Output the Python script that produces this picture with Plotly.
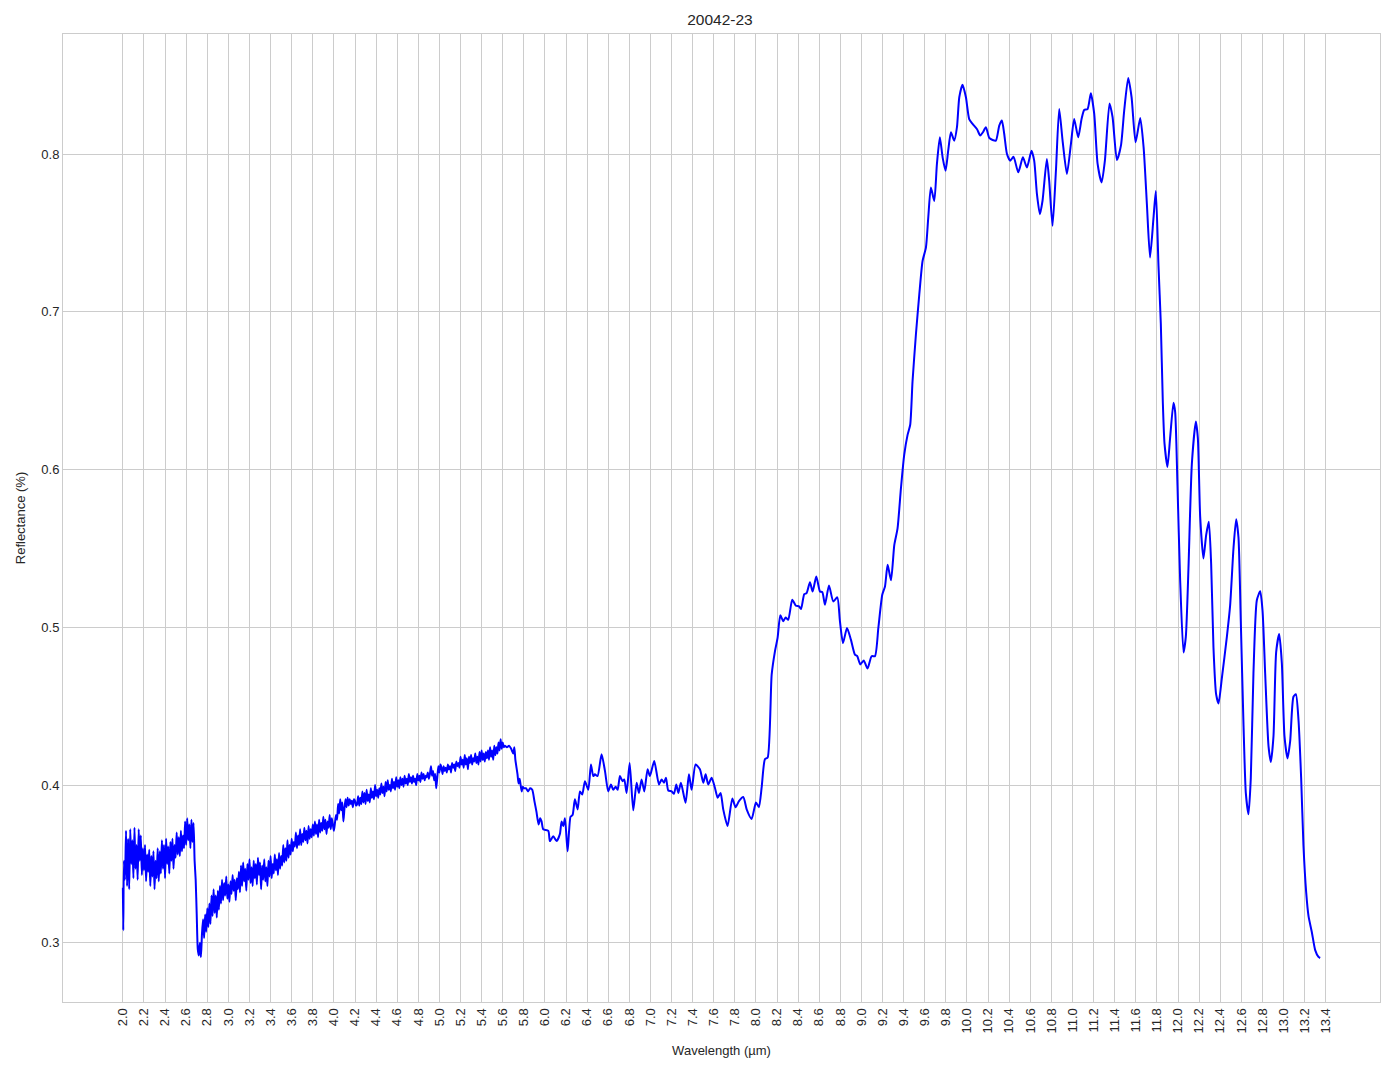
import numpy as np
import plotly.graph_objects as go

TITLE = "20042-23"
X_LABEL = "Wavelength (µm)"
Y_LABEL = "Reflectance (%)"

# --- start of the spectrum (irregular samples)
start_wl = [2.000, 2.004]
start_refl = [0.335, 0.308]

# --- noisy region sampled every 0.01 µm from 2.01 to 4.00
noisy_wl_first, noisy_wl_step = 2.01, 0.01
noisy_refl = [
    0.352, 0.340, 0.371, 0.336, 0.366, 0.334, 0.372, 0.350, 0.365, 0.341,
    0.373, 0.347, 0.362, 0.340, 0.372, 0.352, 0.368, 0.343, 0.360, 0.346,
    0.362, 0.339, 0.356, 0.345, 0.359, 0.336, 0.355, 0.342, 0.358, 0.334,
    0.352, 0.341, 0.360, 0.339, 0.358, 0.344, 0.365, 0.347, 0.362, 0.341,
    0.366, 0.350, 0.361, 0.344, 0.364, 0.352, 0.366, 0.347, 0.362, 0.354,
    0.370, 0.356, 0.367, 0.355, 0.371, 0.358, 0.368, 0.360, 0.377, 0.362,
    0.379, 0.365, 0.375, 0.360, 0.378, 0.364, 0.376, 0.352, 0.340, 0.318,
    0.296, 0.292, 0.300, 0.291, 0.306, 0.315, 0.303, 0.318, 0.307, 0.322,
    0.310, 0.325, 0.312, 0.330, 0.317, 0.334, 0.319, 0.330, 0.316, 0.333,
    0.321, 0.336, 0.325, 0.340, 0.327, 0.338, 0.330, 0.342, 0.328, 0.337,
    0.326, 0.339, 0.331, 0.343, 0.333, 0.340, 0.327, 0.341, 0.334, 0.345,
    0.332, 0.349, 0.336, 0.351, 0.339, 0.347, 0.333, 0.350, 0.340, 0.353,
    0.338, 0.348, 0.336, 0.352, 0.341, 0.350, 0.337, 0.354, 0.343, 0.351,
    0.334, 0.349, 0.340, 0.353, 0.339, 0.348, 0.336, 0.352, 0.342, 0.355,
    0.341, 0.350, 0.344, 0.356, 0.346, 0.353, 0.343, 0.357, 0.347, 0.355,
    0.349, 0.362, 0.351, 0.360, 0.352, 0.365, 0.354, 0.362, 0.356, 0.366,
    0.358, 0.364, 0.361, 0.370, 0.360, 0.368, 0.362, 0.372, 0.362, 0.369,
    0.364, 0.373, 0.365, 0.371, 0.363, 0.374, 0.366, 0.372, 0.367, 0.375,
    0.368, 0.377, 0.369, 0.375, 0.367, 0.378, 0.370, 0.376, 0.371, 0.380,
    0.372, 0.378, 0.369, 0.377, 0.373, 0.381, 0.372, 0.379, 0.375, 0.371,
]

# --- rising region sampled every 0.01 µm from 4.01 to 5.61
rise_wl_first, rise_wl_step = 4.01, 0.01
rise_refl = [
    0.376, 0.381, 0.378, 0.388, 0.382, 0.391, 0.384, 0.389, 0.377, 0.385,
    0.391, 0.386, 0.392, 0.387, 0.391, 0.388, 0.390, 0.386, 0.391, 0.390,
    0.387, 0.388, 0.393, 0.387, 0.392, 0.388, 0.396, 0.389, 0.395, 0.388,
    0.397, 0.390, 0.394, 0.389, 0.398, 0.392, 0.396, 0.391, 0.400, 0.393,
    0.397, 0.392, 0.398, 0.394, 0.401, 0.395, 0.399, 0.393, 0.402, 0.396,
    0.403, 0.397, 0.400, 0.396, 0.404, 0.398, 0.402, 0.397, 0.405, 0.399,
    0.403, 0.398, 0.405, 0.400, 0.404, 0.399, 0.406, 0.401, 0.404, 0.400,
    0.407, 0.402, 0.405, 0.401, 0.406, 0.402, 0.404, 0.400, 0.407, 0.403,
    0.406, 0.402, 0.408, 0.404, 0.407, 0.403, 0.406, 0.405, 0.408, 0.404,
    0.407, 0.412, 0.406, 0.409, 0.403, 0.407, 0.398, 0.405, 0.412, 0.408,
    0.413, 0.411, 0.407, 0.412, 0.409, 0.411, 0.408, 0.413, 0.410, 0.412,
    0.408, 0.414, 0.411, 0.413, 0.409, 0.415, 0.412, 0.414, 0.411, 0.418,
    0.413, 0.416, 0.411, 0.419, 0.413, 0.417, 0.410, 0.418, 0.414, 0.419,
    0.413, 0.417, 0.415, 0.420, 0.414, 0.418, 0.413, 0.421, 0.415, 0.422,
    0.416, 0.420, 0.415, 0.421, 0.417, 0.422, 0.416, 0.424, 0.418, 0.422,
    0.416, 0.425, 0.419, 0.424, 0.420, 0.427, 0.422, 0.429, 0.423, 0.427,
    0.424,
]

# --- remaining spectrum (irregular samples)
tail_wl = [
    5.62, 5.64, 5.66, 5.68, 5.70, 5.71, 5.72, 5.74, 5.75, 5.76, 5.77, 5.78, 5.79,
    5.80, 5.82, 5.84, 5.86, 5.88, 5.90, 5.92, 5.94, 5.955, 5.968, 5.984,
    6.032, 6.047, 6.079, 6.111, 6.142, 6.158, 6.174, 6.190, 6.215, 6.243, 6.262,
    6.284, 6.310, 6.332, 6.354, 6.379, 6.411, 6.436, 6.458, 6.474, 6.499, 6.537,
    6.569, 6.600, 6.626, 6.648, 6.670, 6.689, 6.711, 6.736, 6.752, 6.774, 6.803,
    6.837, 6.869, 6.891, 6.916, 6.942, 6.973, 6.995, 7.036, 7.081, 7.106, 7.128,
    7.147, 7.169, 7.201, 7.223, 7.245, 7.264, 7.289, 7.333, 7.365, 7.390, 7.428,
    7.469, 7.501, 7.523, 7.548, 7.580, 7.611, 7.637, 7.665, 7.690, 7.731, 7.776,
    7.807, 7.839, 7.880, 7.912, 7.959, 8.000, 8.028, 8.054, 8.085, 8.111, 8.149,
    8.180, 8.205, 8.231, 8.259, 8.281, 8.306, 8.344, 8.379, 8.408, 8.427, 8.458,
    8.480, 8.512, 8.537, 8.572, 8.607, 8.629, 8.654, 8.692, 8.733, 8.771, 8.796,
    8.825, 8.863, 8.900, 8.938, 8.960, 8.989, 9.021, 9.058, 9.096, 9.128, 9.160,
    9.197, 9.223, 9.248, 9.280, 9.311, 9.342, 9.374, 9.405, 9.437, 9.462, 9.484,
    9.516, 9.548, 9.579, 9.611, 9.633, 9.658, 9.690, 9.715, 9.743, 9.769, 9.797,
    9.822, 9.848, 9.879, 9.905, 9.927, 9.958, 9.990, 10.021, 10.053, 10.094,
    10.126, 10.151, 10.179, 10.211, 10.243, 10.274, 10.306, 10.331, 10.353,
    10.379, 10.410, 10.441, 10.486, 10.530, 10.568, 10.612, 10.637, 10.663,
    10.691, 10.716, 10.757, 10.779, 10.811, 10.843, 10.874, 10.906, 10.947,
    10.985, 11.016, 11.054, 11.086, 11.111, 11.143, 11.174, 11.206, 11.238,
    11.276, 11.307, 11.351, 11.380, 11.421, 11.459, 11.490, 11.528, 11.560,
    11.598, 11.642, 11.674, 11.705, 11.735, 11.768, 11.790, 11.815, 11.837,
    11.856, 11.872, 11.900, 11.925, 11.957, 11.973, 11.995, 12.020, 12.052,
    12.074, 12.099, 12.131, 12.169, 12.188, 12.210, 12.241, 12.267, 12.292,
    12.314, 12.336, 12.361, 12.384, 12.415, 12.463, 12.494, 12.526, 12.551,
    12.573, 12.595, 12.621, 12.643, 12.668, 12.690, 12.715, 12.747, 12.779,
    12.801, 12.826, 12.858, 12.880, 12.905, 12.930, 12.959, 12.984, 13.009,
    13.038, 13.063, 13.094, 13.117, 13.142, 13.167, 13.189, 13.215, 13.237,
    13.268, 13.300, 13.331, 13.347,
]
tail_refl = [
    0.425, 0.424, 0.425, 0.423, 0.420, 0.424, 0.416, 0.407, 0.401, 0.404, 0.400, 0.396, 0.399,
    0.398, 0.398, 0.396, 0.398, 0.397, 0.390, 0.383, 0.375, 0.379, 0.377, 0.372,
    0.371, 0.3645, 0.3676, 0.3645, 0.369, 0.377, 0.374, 0.379, 0.358, 0.380, 0.381,
    0.391, 0.3846, 0.396, 0.394, 0.4025, 0.397, 0.413, 0.4057, 0.4068, 0.4057, 0.4195,
    0.409, 0.396, 0.4004, 0.397, 0.399, 0.397, 0.4057, 0.4025, 0.4036, 0.395, 0.414,
    0.384, 0.4015, 0.395, 0.4036, 0.396, 0.410, 0.4057, 0.4152, 0.4004, 0.4036, 0.4015,
    0.4047, 0.3966, 0.396, 0.3945, 0.4004, 0.395, 0.4015, 0.3888, 0.4068, 0.397, 0.413,
    0.410, 0.4015, 0.4068, 0.4004, 0.4047, 0.3983, 0.392, 0.395, 0.3846, 0.374, 0.3915,
    0.386, 0.3898, 0.3924, 0.3846, 0.3785, 0.389, 0.386, 0.3985, 0.4164, 0.4175, 0.470,
    0.4848, 0.4933, 0.5076, 0.5038, 0.5063, 0.5048, 0.5175, 0.5137, 0.5133, 0.5116, 0.521,
    0.5217, 0.5286, 0.5227, 0.5322, 0.5227, 0.5223, 0.5143, 0.5265, 0.5164, 0.519, 0.5038,
    0.490, 0.4996, 0.4922, 0.4827, 0.4817, 0.4764, 0.479, 0.4739, 0.4817, 0.4817, 0.4996,
    0.5206, 0.5259, 0.5396, 0.5299, 0.5521, 0.5627, 0.5881, 0.6093, 0.622, 0.6284, 0.6559,
    0.6856, 0.711, 0.7322, 0.7407, 0.7597, 0.7788, 0.7703, 0.7936, 0.8106, 0.7979, 0.7894,
    0.8021, 0.8138, 0.8085, 0.817, 0.836, 0.8439, 0.836, 0.8222, 0.8191, 0.8159,
    0.8117, 0.8138, 0.817, 0.8102, 0.8089, 0.8085, 0.818, 0.8212, 0.8127,
    0.800, 0.7958, 0.7983, 0.7884, 0.7979, 0.7915, 0.8021, 0.7958, 0.7746,
    0.7619, 0.7704, 0.7968, 0.7831, 0.7545, 0.7894, 0.8286, 0.8085, 0.7873,
    0.8063, 0.8222, 0.8106, 0.8222, 0.8279, 0.8285, 0.8385, 0.8254, 0.7937,
    0.782, 0.7958, 0.8321, 0.8233, 0.7962, 0.8053, 0.8275, 0.8482, 0.836,
    0.8074, 0.8228, 0.8042, 0.7683, 0.7344, 0.7598, 0.7765, 0.7291, 0.6927,
    0.643, 0.6166, 0.6017, 0.6199, 0.6424, 0.6364, 0.590, 0.5305, 0.4841,
    0.494, 0.5371, 0.6033, 0.6305, 0.6199, 0.5702, 0.5437, 0.5586, 0.5669,
    0.5404, 0.4874, 0.4576, 0.4517, 0.4675, 0.494, 0.5139, 0.5503, 0.5685,
    0.557, 0.504, 0.4377, 0.3947, 0.3815, 0.4046, 0.4709, 0.5172, 0.5228,
    0.5106, 0.4709, 0.4245, 0.4146, 0.4311, 0.4841, 0.4957, 0.4775, 0.4311,
    0.4169, 0.4278, 0.456, 0.4576, 0.4411, 0.4046, 0.3616, 0.3318, 0.3169,
    0.3069, 0.2954, 0.2911, 0.2904,
]

x_ticks = [round(2.0 + 0.2 * i, 1) for i in range(58)]
x_tick_labels = [f"{t:.1f}" for t in x_ticks]
y_ticks = [0.3, 0.4, 0.5, 0.6, 0.7, 0.8]
y_tick_labels = ["0.3", "0.4", "0.5", "0.6", "0.7", "0.8"]

noisy_wl = [round(noisy_wl_first + noisy_wl_step * i, 3) for i in range(len(noisy_refl))]
rise_wl = [round(rise_wl_first + rise_wl_step * i, 3) for i in range(len(rise_refl))]

wl = start_wl + noisy_wl + rise_wl + tail_wl
refl = start_refl + noisy_refl + rise_refl + tail_refl

xmin, xmax = min(wl), max(wl)
ymin, ymax = min(refl), max(refl)
xpad = 0.05 * (xmax - xmin)
ypad = 0.05 * (ymax - ymin)

FONT = "Liberation Sans, Arial, DejaVu Sans, sans-serif"
GRID = "#cccccc"

# page body adds an 8px offset; figure is sized to fit the 1394x1069 window
FIG_W, FIG_H = 1386, 1061

fig = go.Figure()
fig.add_trace(go.Scatter(
    x=wl, y=refl, mode="lines",
    line=dict(color="#0000ff", width=2, shape="spline", smoothing=0.6),
    showlegend=False,
))

fig.update_layout(
    width=FIG_W, height=FIG_H,
    margin=dict(l=52, r=14, t=26, b=67),
    paper_bgcolor="white", plot_bgcolor="white",
    font=dict(family=FONT, size=13, color="#262626"),
    title=dict(text=TITLE, x=712 / FIG_W, xanchor="center",
               y=1 - 12 / FIG_H, yanchor="middle",
               font=dict(family=FONT, size=15.5, color="#262626")),
)
fig.update_xaxes(
    range=[xmin - xpad, xmax + xpad],
    tickmode="array", tickvals=x_ticks, ticktext=x_tick_labels,
    tickangle=-90, ticks="", showgrid=True, gridcolor=GRID, gridwidth=1,
    showline=True, linecolor=GRID, linewidth=1, mirror=True, zeroline=False,
    title=dict(text=X_LABEL, font=dict(size=13), standoff=13),
    tickfont=dict(size=13),
)
fig.update_yaxes(
    range=[ymin - ypad, ymax + ypad],
    tickmode="array", tickvals=y_ticks, ticktext=y_tick_labels,
    ticks="", showgrid=True, gridcolor=GRID, gridwidth=1,
    showline=True, linecolor=GRID, linewidth=1, mirror=True, zeroline=False,
    title=dict(text=Y_LABEL, font=dict(size=13), standoff=12),
    tickfont=dict(size=13),
)

fig.write_html("out.html")
